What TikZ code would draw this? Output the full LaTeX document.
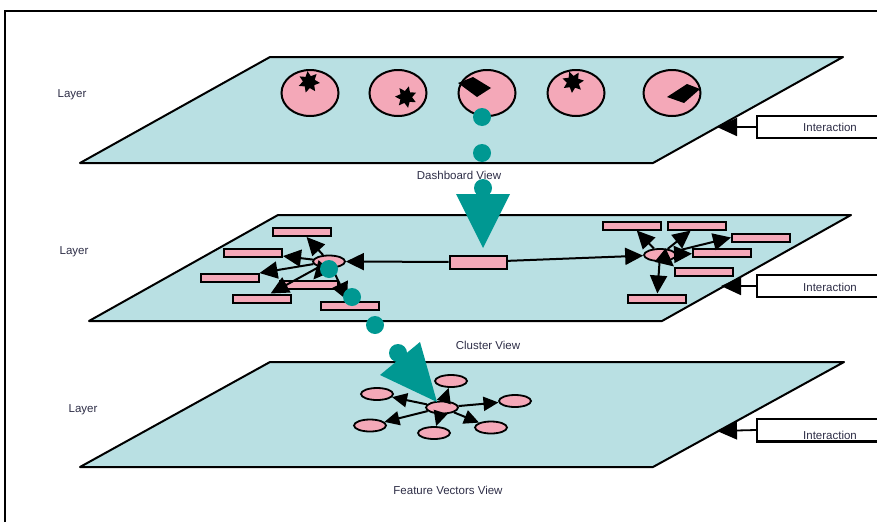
\documentclass[tikz,border=0pt]{standalone}
\usepackage{fontspec}
\setmainfont{Liberation Sans}
\usetikzlibrary{shapes.geometric,arrows.meta}
\definecolor{planefill}{RGB}{185,224,227}
\definecolor{pinkfill}{RGB}{244,168,184}
\definecolor{tealdot}{RGB}{0,152,146}
\definecolor{labeltext}{RGB}{45,45,70}

\begin{document}
\begin{tikzpicture}[x=1pt,y=-1pt,
  plane/.style={fill=planefill,draw=black,line width=2pt,line join=round},
  disc/.style={ellipse,draw=black,line width=2pt,fill=pinkfill,
    minimum width=57pt,minimum height=46pt,inner sep=0pt},
  blot/.style={star,star points=7,star point ratio=1.8,fill=black,
    minimum size=22pt,inner sep=0pt},
  bar/.style={rectangle,draw=black,line width=2pt,fill=pinkfill,
    minimum width=58pt,minimum height=8pt,inner sep=0pt},
  midbar/.style={rectangle,draw=black,line width=2pt,fill=pinkfill,
    minimum width=57pt,minimum height=13pt,inner sep=0pt},
  hub/.style={ellipse,draw=black,line width=1.8pt,fill=pinkfill,
    minimum width=32pt,minimum height=12pt,inner sep=0pt},
  conn/.style={line width=2pt,-{Triangle[length=18pt,width=17pt]}},
  tealpt/.style={circle,fill=tealdot,minimum size=18pt,inner sep=0pt},
  lbl/.style={text=labeltext,font=\fontsize{11.5}{13}\selectfont,inner sep=0pt},
  ibox/.style={rectangle,draw=black,line width=2pt,fill=white,
    minimum width=130pt,minimum height=22pt,inner sep=0pt},
  iarrow/.style={line width=1.8pt,-{Triangle[length=20pt,width=18pt]}}
]
\useasboundingbox (0,0) rectangle (877,522);

% outer frame
\draw[line width=2.6pt] (5,522) -- (5,11) -- (877,11);

% ---------- dashboard layer ----------
\draw[plane] (270,57) -- (843,57) -- (653,163) -- (80,163) -- cycle;
\node[disc] (d1) at (310,93) {};
\node[disc] (d2) at (398,93) {};
\node[disc] (d3) at (487,93) {};
\node[disc] (d4) at (576,93) {};
\node[disc] (d5) at (672,93) {};
\node[blot,rotate=8] (s1) at (309,82) {};
\node[blot,rotate=-15] (s2) at (406,97) {};
\fill (458,83) -- (473,77) -- (491,88) -- (477,97) -- cycle;
\node[blot,rotate=20] (s4) at (573,82) {};
\fill (667,97) -- (687,84) -- (700,89) -- (684,103) -- cycle;

% ---------- cluster layer ----------
\draw[plane] (278,215) -- (851,215) -- (662,321) -- (89,321) -- cycle;
\node[midbar] (m) at (478,262) {};
% left cluster
\node[bar] (l1) at (302,232) {};
\node[bar] (l2) at (253,252.5) {};
\node[bar] (l3) at (229.5,278) {};
\node[bar] (l4) at (309,284.5) {};
\node[bar] (l5) at (261.5,298.5) {};
\node[bar] (l6) at (350,305.5) {};
\node[hub] (lc) at (329,261.5) {};
% right cluster
\node[bar] (r1) at (632,225.5) {};
\node[bar] (r2) at (697,225.5) {};
\node[bar] (r3) at (761,237.5) {};
\node[bar] (r4) at (722,252.5) {};
\node[bar] (r5) at (704,271.5) {};
\node[bar] (r6) at (657,298.5) {};
\node[hub] (rc) at (660,255) {};

\draw[conn] (m) -- (lc);
\draw[conn] (m) -- (rc);
\foreach \t in {l1,l2,l3,l4,l5,l6} \draw[conn] (lc) -- (\t);
\draw[conn] (rc) -- (r1);
\draw[conn] (rc) -- (r2);
\draw[conn] (rc) -- (r3.west);
\draw[conn] (rc) -- (r4);
\draw[conn] (rc) -- (r5.north west);
\draw[conn] (rc) -- (r6);

% ---------- feature vector layer ----------
\draw[plane] (270,362) -- (844,362) -- (653,467) -- (80,467) -- cycle;
\node[hub] (fc) at (442,407.5) {};
\node[hub] (f1) at (377,394) {};
\node[hub] (f2) at (451,381) {};
\node[hub] (f3) at (515,401) {};
\node[hub] (f4) at (370,425.5) {};
\node[hub] (f5) at (434,433) {};
\node[hub] (f6) at (491,427.5) {};

% teal pointer into the feature vector layer
\node[tealpt] (t7) at (398,353) {};
\fill[tealdot] (380,375) -- (420,342) -- (437,402) -- cycle;
\foreach \t in {f1,f2,f3,f4,f5,f6} \draw[conn,-{Triangle[length=15pt,width=14pt]}] (fc) -- (\t);

% teal pointer from the dashboard down to the clusters
\node[tealpt] (t1) at (482,117) {};
\node[tealpt] (t2) at (482,153) {};
\node[tealpt] (t3) at (483,188) {};
\fill[tealdot] (456,194) -- (510,194) -- (483,248) -- cycle;
\node[tealpt] (t4) at (329,269) {};
\node[tealpt] (t5) at (352,297) {};
\node[tealpt] (t6) at (375,325) {};

% ---------- labels ----------
\node[lbl] (la1) at (72,95) {Layer};
\node[lbl] (la2) at (74,252) {Layer};
\node[lbl] (la3) at (83,410) {Layer};
\node[lbl] (v1) at (459,175) {Dashboard View};
\node[lbl] (v2) at (488,345) {Cluster View};
\node[lbl] (v3) at (448,490) {Feature Vectors View};

% ---------- interaction boxes ----------
\coordinate (e1) at (717,127);
\coordinate (e2) at (721,286);
\coordinate (e3) at (717,431);
\node[ibox] (i1) at (822,127) {};
\node[ibox] (i2) at (822,286) {};
\node[ibox] (i3) at (822,430) {};
\node[lbl] (it1) at (830,127.5) {Interaction};
\node[lbl] (it2) at (830,287) {Interaction};
\begin{scope}
  \clip (i3.north west) rectangle (i3.south east);
  \node[lbl] (it3) at (830,435.5) {Interaction};
\end{scope}
\draw[line width=2pt] (i3.south west) -- (i3.south east);
\draw[iarrow] (i1.west) -- (e1);
\draw[iarrow] (i2.west) -- (e2);
\draw[iarrow] (i3.west) -- (e3);
\end{tikzpicture}
\end{document}
